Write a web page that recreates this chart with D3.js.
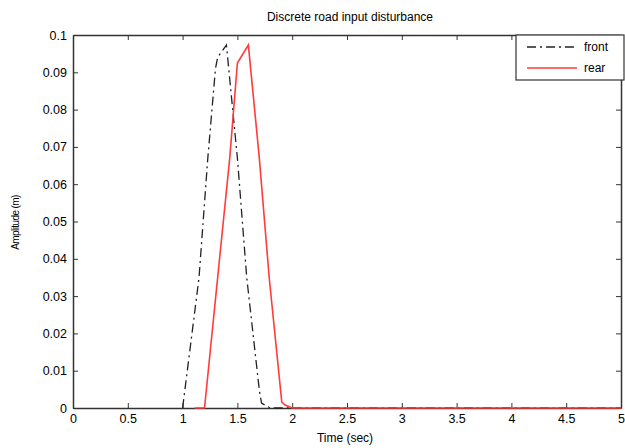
<!DOCTYPE html>
<html lang="en">
<head>
    <meta charset="utf-8">
    <title>Discrete road input disturbance</title>
    <style>
        body { margin: 0; background: #fff; }
        svg { font-family: "Liberation Sans", Arial, sans-serif; }
        .axis path, .axis line { stroke: #333; }
        .axis text { font-size: 12.5px; fill: #000; }
    </style>
</head>
<body>
<div id="chart"></div>
<script src="https://d3js.org/d3.v7.min.js"></script>
<script>
    // values
    const frontTime = [1.0, 1.15, 1.23, 1.30, 1.32, 1.40, 1.50, 1.585, 1.70, 1.72, 1.80, 5];
    const frontAmp = [0, 0.035, 0.067, 0.091, 0.094, 0.0973, 0.067, 0.035, 0.0048, 0.0013, 0, 0];
    const rearTime = [1.11, 1.20, 1.32, 1.43, 1.50, 1.60, 1.70, 1.79, 1.905, 1.935, 2.0, 5];
    const rearAmp = [0, 0, 0.035, 0.067, 0.0925, 0.0973, 0.067, 0.035, 0.0016, 0.0008, 0, 0];
    const xTicks = [0, 0.5, 1, 1.5, 2, 2.5, 3, 3.5, 4, 4.5, 5];
    const yTicks = [0, 0.01, 0.02, 0.03, 0.04, 0.05, 0.06, 0.07, 0.08, 0.09, 0.1];
    const legendNames = ["front", "rear"];

    const width = 625;
    const height = 448;
    const margin = {top: 35, right: 3, bottom: 40, left: 73};

    const svg = d3.select("#chart").append("svg")
        .attr("width", width)
        .attr("height", height);

    const x = d3.scaleLinear().domain([0, 5]).range([margin.left, width - margin.right - 1]);
    const y = d3.scaleLinear().domain([0, 0.1]).range([height - margin.bottom, margin.top]);

    const line = d3.line()
        .x(d => x(d[0]))
        .y(d => y(d[1]));

    const front = frontTime.map((t, i) => [t, frontAmp[i]]);
    const rear = rearTime.map((t, i) => [t, rearAmp[i]]);

    // box and ticks (matlab style, ticks pointing in)
    svg.append("g")
        .attr("class", "axis")
        .attr("transform", "translate(0," + y(0) + ")")
        .call(d3.axisBottom(x).tickValues(xTicks).tickSizeInner(-5).tickSizeOuter(0).tickPadding(6)
            .tickFormat(d3.format("")));
    svg.append("g")
        .attr("class", "axis")
        .attr("transform", "translate(0," + y(0.1) + ")")
        .call(d3.axisTop(x).tickValues(xTicks).tickSizeInner(-5).tickSizeOuter(0).tickFormat(""));
    svg.append("g")
        .attr("class", "axis")
        .attr("transform", "translate(" + x(0) + ",0)")
        .call(d3.axisLeft(y).tickValues(yTicks).tickSizeInner(-5).tickSizeOuter(0).tickPadding(6)
            .tickFormat(d3.format("")));
    svg.append("g")
        .attr("class", "axis")
        .attr("transform", "translate(" + x(5) + ",0)")
        .call(d3.axisRight(y).tickValues(yTicks).tickSizeInner(-5).tickSizeOuter(0).tickFormat(""));

    svg.selectAll(".axis path").attr("stroke-width", 1.5);

    svg.append("path")
        .datum(front)
        .attr("fill", "none")
        .attr("stroke", "#222")
        .attr("stroke-width", 1.3)
        .attr("stroke-dasharray", "9,4,2,4")
        .attr("d", line);

    svg.append("path")
        .datum(rear)
        .attr("fill", "none")
        .attr("stroke", "#ff3b3b")
        .attr("stroke-width", 1.6)
        .attr("d", line);

    // legend
    const lg = svg.append("g").attr("transform", "translate(516,35)");
    lg.append("rect")
        .attr("width", 108).attr("height", 45)
        .attr("fill", "#fff").attr("stroke", "#333").attr("stroke-width", 1.2);
    const styles = [
        {stroke: "#222", dash: "9,4,2,4", w: 1.3},
        {stroke: "#ff3b3b", dash: null, w: 1.6}
    ];
    legendNames.forEach((name, i) => {
        const yy = 12 + i * 21;
        lg.append("line")
            .attr("x1", 11).attr("x2", 61).attr("y1", yy).attr("y2", yy)
            .attr("stroke", styles[i].stroke)
            .attr("stroke-width", styles[i].w)
            .attr("stroke-dasharray", styles[i].dash);
        lg.append("text")
            .attr("x", 68).attr("y", yy + 4)
            .attr("font-size", 12)
            .text(name);
    });

    svg.append("text")
        .attr("x", (x(0) + x(5)) / 2 + 3).attr("y", 21)
        .attr("text-anchor", "middle")
        .attr("font-size", 12)
        .text("Discrete road input disturbance");

    svg.append("text")
        .attr("x", (x(0) + x(5)) / 2 - 2).attr("y", 442)
        .attr("text-anchor", "middle")
        .attr("font-size", 12)
        .text("Time (sec)");

    svg.append("text")
        .attr("transform", "translate(19," + (y(0.05) + 1) + ") rotate(-90)")
        .attr("text-anchor", "middle")
        .attr("font-size", 10)
        .attr("letter-spacing", -0.6)
        .text("Amplitude (m)");
</script>
</body>
</html>
